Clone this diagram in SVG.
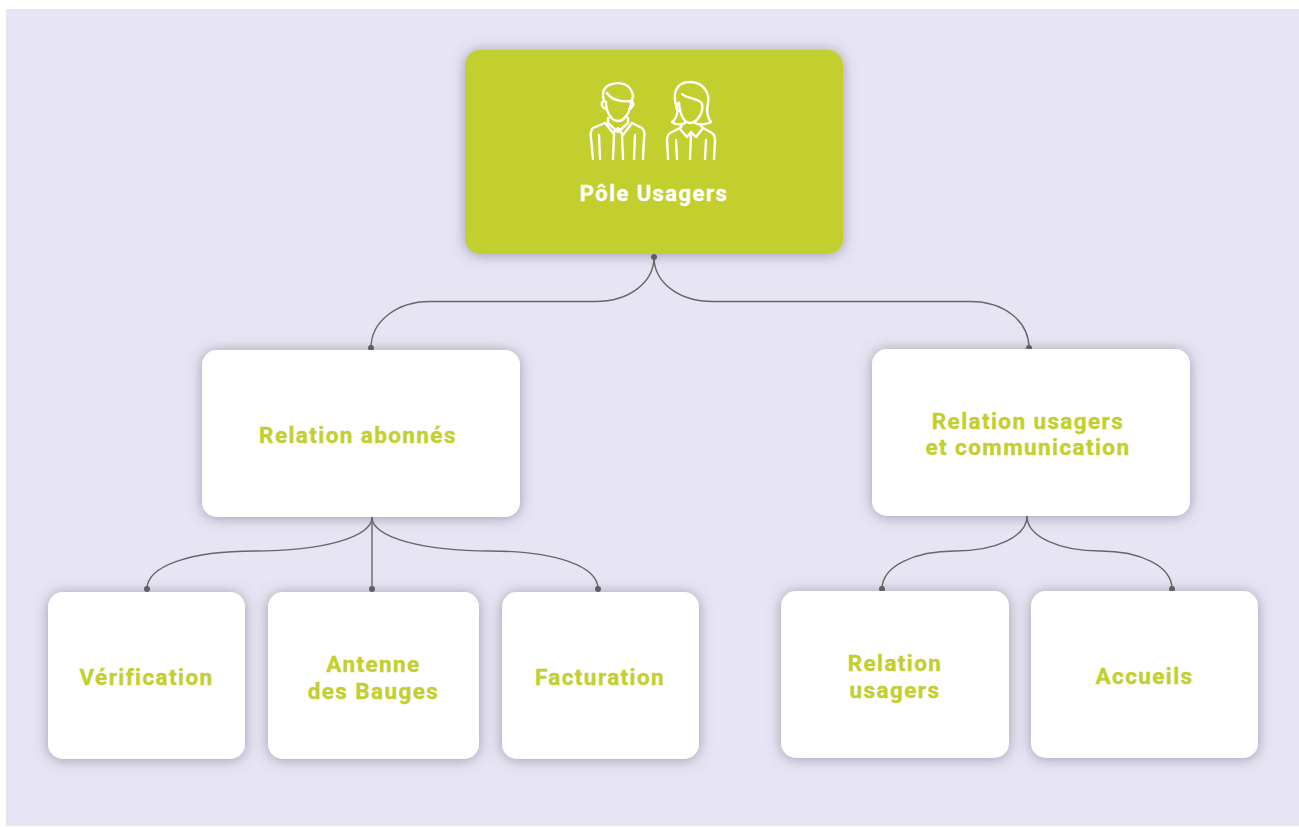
<svg xmlns="http://www.w3.org/2000/svg" width="1299" height="827" viewBox="0 0 1299 827">
<style>
.card{fill:#fff;filter:url(#sh)}
.lab{font-family:Roboto,"Liberation Sans",sans-serif;font-weight:700;font-size:22.5px;letter-spacing:1.4px;fill:#c3cf2f;text-anchor:middle;stroke:#c3cf2f;stroke-width:.35}
.wl{font-family:Roboto,"Liberation Sans",sans-serif;font-weight:700;font-size:22px;letter-spacing:1.45px;fill:#fff;text-anchor:middle;stroke:#fff;stroke-width:.35}
.cn{fill:none;stroke:#666;stroke-width:1.4}
.dot{fill:#5f5f5f}
.ic{fill:none;stroke:#fff;stroke-width:2.4;stroke-linecap:round;stroke-linejoin:round}
</style>
<defs>
<filter id="sh" x="-20%" y="-20%" width="140%" height="140%">
<feDropShadow dx="0" dy="1" stdDeviation="7" flood-color="#5f5c78" flood-opacity="0.55"/>
</filter>
</defs>
<rect width="1299" height="827" fill="#fff"/>
<rect x="6" y="9" width="1293" height="817" fill="#e7e5f3"/>
<g id="connectors">
<path class="cn" d="M654 257C654 282 630 301.500 595 301.500H430C396 301.500 371 322 371 348"/>
<path class="cn" d="M654 257C654 282 678 301.500 713 301.500H970C1005 301.500 1029 322 1029 348"/>
<path class="cn" d="M372 517C372 538 320 551 255 551C190 551 147 566 147 589"/>
<path class="cn" d="M372 517V589"/>
<path class="cn" d="M372 517C372 538 425 551 490 551C555 551 598 566 598 589"/>
<path class="cn" d="M1027 516C1027 537 995 551 955 551C915 551 882 566 882 589"/>
<path class="cn" d="M1027 516C1027 537 1060 551 1100 551C1140 551 1172 566 1172 589"/>
<circle class="dot" cx="654" cy="257" r="3"/>
<circle class="dot" cx="371" cy="348" r="3"/>
<circle class="dot" cx="1029" cy="348" r="3"/>
<circle class="dot" cx="147" cy="589" r="3"/>
<circle class="dot" cx="372" cy="589" r="3"/>
<circle class="dot" cx="598" cy="589" r="3"/>
<circle class="dot" cx="882" cy="589" r="3"/>
<circle class="dot" cx="1172" cy="589" r="3"/>
</g>
<g id="node-pole">
<rect x="465" y="50" width="378" height="204" rx="15" fill="#c3cf2f" filter="url(#sh)"/>
<g class="ic">
<path d="M604 101C602 94 603 88 609 85C616 82 627 82 631 90C634 95 633 99 631 102"/>
<path d="M604 101C600 103 602 108 606 109M632 102C635 104 632 108 629 109"/>
<path d="M606 102C606 112 611 121 618 121C625 121 631 111 631 101C624 102 612 101 607 93"/>
<path d="M608 118V123L618 132L628 123V118"/>
<path d="M605 123L613 133L618 128L623 135L632 123"/>
<path d="M614 134L613 159M622 135L623 159"/>
<path d="M605 123L593 128C591 130 590 133 591 138L593 159M632 123L642 128C644 130 645 133 644 138L643 159"/>
<path d="M599 135L600 159M635 135L634 159"/>
<path d="M672 122C677 118 678 114 677 108C672 95 675 82 690 82C703 82 710 93 708 103C706 112 707 117 711 122C706 125 699 125 695 123M672 122C676 125 681 125 685 123"/>
<path d="M682 94C687 99 700 98 702 104C704 112 697 123 690 123C684 123 680 115 679 103"/>
<path d="M679 103C675 104 676 109 678 111"/>
<path d="M682 125L680 129L687 137L691 132L696 137L703 128L700 125"/>
<path d="M680 128L670 133C667 135 667 138 667 141L668 159M703 128L712 133C715 135 715 138 715 141L714 159"/>
<path d="M691 135L690 159M676 140L677 159M706 140L705 159"/>
</g>
<text class="wl" x="654" y="201">Pôle Usagers</text>
</g>
<g id="node-abonnes">
<rect class="card" x="202" y="350" width="318" height="167" rx="15"/>
<text class="lab" x="358" y="443">Relation abonnés</text>
</g>
<g id="node-communication">
<rect class="card" x="872" y="349" width="318" height="167" rx="15"/>
<text class="lab" x="1028" y="429">Relation usagers</text>
<text class="lab" x="1028" y="455">et communication</text>
</g>
<g id="node-verification">
<rect class="card" x="48" y="592" width="197" height="167" rx="15"/>
<text class="lab" x="146.500" y="685">Vérification</text>
</g>
<g id="node-antenne">
<rect class="card" x="268" y="592" width="211" height="167" rx="15"/>
<text class="lab" x="373.500" y="672">Antenne</text>
<text class="lab" x="373.500" y="699">des Bauges</text>
</g>
<g id="node-facturation">
<rect class="card" x="502" y="592" width="197" height="167" rx="15"/>
<text class="lab" x="600" y="685">Facturation</text>
</g>
<g id="node-relation-usagers">
<rect class="card" x="781" y="591" width="228" height="167" rx="15"/>
<text class="lab" x="895" y="671">Relation</text>
<text class="lab" x="895" y="698">usagers</text>
</g>
<g id="node-accueils">
<rect class="card" x="1031" y="591" width="227" height="167" rx="15"/>
<text class="lab" x="1144.500" y="684">Accueils</text>
</g>
</svg>
